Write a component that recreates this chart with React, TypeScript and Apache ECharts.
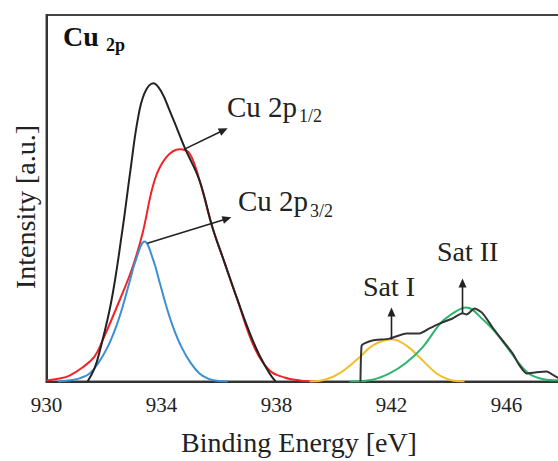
import React, { useEffect, useRef } from "react";
import * as echarts from "echarts";

// Binding energy (eV) / intensity (a.u.)
const totalEnergy = [931.43, 931.67, 931.84, 932.26, 932.64, 932.92, 933.17, 933.41, 933.72, 934.0, 934.28, 934.56, 934.83, 935.32, 935.77, 936.19, 936.61, 937.06, 937.41, 937.76, 937.97];
const totalIntensity = [0, 3.6, 7.9, 22.1, 41.3, 57.7, 71.3, 78.7, 81.4, 79.0, 74.0, 68.6, 63.4, 54.9, 42.1, 32.5, 23.0, 13.4, 7.1, 2.2, 0];

const p12Energy = [930.0, 930.45, 930.8, 931.25, 931.67, 931.95, 932.54, 932.99, 933.34, 933.76, 934.17, 934.63, 934.97, 935.32, 935.77, 936.19, 936.61, 937.23, 937.76, 938.28, 938.8, 939.5];
const p12Intensity = [0.3, 0.8, 1.6, 3.8, 6.8, 11.2, 22.1, 31.1, 40.4, 54.9, 61.2, 63.4, 62.3, 54.9, 42.1, 32.5, 23.0, 9.3, 3.0, 1.1, 0.3, 0];

const p32Energy = [930.4, 930.9, 931.2, 931.5, 931.8, 932.12, 932.4, 932.64, 932.9, 933.1, 933.41, 933.72, 933.92, 934.18, 934.42, 934.7, 935.02, 935.32, 935.62, 935.92, 936.3];
const p32Intensity = [0, 0.4, 1.0, 2.2, 5.0, 9.3, 14.5, 20.2, 27.5, 33.0, 38.2, 33.0, 27.5, 20.2, 14.5, 9.3, 5.0, 2.2, 0.8, 0.2, 0];

const sat1Energy = [939.15, 939.67, 940.19, 940.89, 941.34, 942.0, 942.52, 942.97, 943.57, 944.02, 944.54];
const sat1Intensity = [0, 0.5, 2.2, 6.6, 9.8, 11.5, 9.8, 6.6, 2.2, 0.5, 0];

const sat2Energy = [940.54, 941.34, 941.93, 942.52, 943.08, 943.67, 944.02, 944.6, 945.17, 945.65, 946.1, 946.56, 946.9, 947.39, 947.84, 948.0];
const sat2Intensity = [0, 0.5, 2.2, 5.2, 9.3, 15.6, 18.0, 20.2, 17.0, 13.1, 8.5, 3.8, 1.6, 0.5, 0.3, 0.2];

const satTotalEnergy = [940.92, 940.96, 941.06, 941.34, 941.93, 942.52, 942.97, 943.32, 943.67, 944.12, 944.47, 944.61, 944.89, 945.17, 945.51, 945.86, 946.21, 946.45, 946.7, 947.04, 947.39, 947.6, 947.77, 948.0];
const satTotalIntensity = [0, 9.8, 10.4, 11.2, 11.7, 13.1, 13.1, 14.5, 15.8, 17.2, 18.6, 18.3, 19.9, 18.6, 14.8, 11.2, 7.7, 4.4, 2.2, 2.5, 2.7, 1.9, 1.1, 0.8];

// annotation arrows (data coordinates): [energy, intensity]
const arrowFrom = [[934.8, 63.4], [933.51, 37.7], [942.0, 11.5], [944.47, 18.6]];
const arrowTo = [[936.3, 69.1], [936.43, 44.8], [942.0, 20.2], [944.47, 28.1]];

const xTicks = { min: 930, max: 948, interval: 4 };

const zip = (a: number[], b: number[]) => a.map((v, i) => [v, b[i]]);

const SERIF = "'Liberation Serif', 'Times New Roman', serif";

export default function App() {
  const ref = useRef<HTMLDivElement>(null);
  useEffect(() => {
    if (!ref.current) return;
    const chart = echarts.init(ref.current, null, { renderer: "svg" });
    const lineSeries = (data: number[][], color: string, smooth: number | boolean, z: number) => ({
      type: "line",
      data,
      smooth,
      showSymbol: false,
      symbol: "none",
      lineStyle: { color, width: 2 },
      z,
      silent: true,
    });
    const texts = [
      { type: "text", x: 63, y: 36, style: { text: "Cu", font: `bold 28px ${SERIF}`, fill: "#111", verticalAlign: "middle" } },
      { type: "text", x: 106, y: 44.5, style: { text: "2p", font: `bold 18px ${SERIF}`, fill: "#111", verticalAlign: "middle" } },
      { type: "text", x: 227, y: 107, style: { text: "Cu 2p", font: `29px ${SERIF}`, fill: "#222", verticalAlign: "middle" } },
      { type: "text", x: 299, y: 116, style: { text: "1/2", font: `18px ${SERIF}`, fill: "#222", verticalAlign: "middle" } },
      { type: "text", x: 238, y: 201, style: { text: "Cu 2p", font: `29px ${SERIF}`, fill: "#222", verticalAlign: "middle" } },
      { type: "text", x: 310, y: 211, style: { text: "3/2", font: `18px ${SERIF}`, fill: "#222", verticalAlign: "middle" } },
      { type: "text", x: 363, y: 286, style: { text: "Sat I", font: `28px ${SERIF}`, fill: "#222", verticalAlign: "middle" } },
      { type: "text", x: 437, y: 251, style: { text: "Sat II", font: `28px ${SERIF}`, fill: "#222", verticalAlign: "middle" } },
      { type: "text", x: 299, y: 442, style: { text: "Binding Energy [eV]", font: `28px ${SERIF}`, fill: "#222", align: "center", verticalAlign: "middle" } },
      { type: "text", x: 25, y: 207, rotation: Math.PI / 2, style: { text: "Intensity [a.u.]", font: `28px ${SERIF}`, fill: "#222", align: "center", verticalAlign: "middle" } },
    ];
    chart.setOption({
      animation: false,
      backgroundColor: "#fff",
      textStyle: { fontFamily: SERIF },
      grid: {
        left: 46.5,
        top: 15,
        right: -6,
        bottom: 79.5,
        show: true,
        borderColor: "#444",
        borderWidth: 2,
        outerBoundsMode: "none",
        containLabel: false,
      },
      xAxis: {
        type: "value",
        min: xTicks.min,
        max: xTicks.max,
        interval: xTicks.interval,
        axisLine: { show: true, lineStyle: { color: "#333", width: 2 } },
        axisTick: { show: false },
        splitLine: { show: false },
        axisLabel: { fontFamily: SERIF, fontSize: 21, color: "#222", margin: 13, showMaxLabel: false },
      },
      yAxis: {
        type: "value",
        min: 0,
        max: 100,
        axisLine: { show: true, onZero: false, lineStyle: { color: "#333", width: 2 } },
        axisTick: { show: false },
        axisLabel: { show: false },
        splitLine: { show: false },
      },
      series: [
        lineSeries(zip(p12Energy, p12Intensity), "#ee2428", 0.4, 2),
        lineSeries(zip(p32Energy, p32Intensity), "#3a8fd5", 0.4, 2),
        lineSeries(zip(sat1Energy, sat1Intensity), "#f2bf2a", 0.4, 2),
        lineSeries(zip(sat2Energy, sat2Intensity), "#2db46b", 0.4, 2),
        lineSeries(zip(totalEnergy, totalIntensity), "#222", 0.4, 3),
        lineSeries(zip(satTotalEnergy, satTotalIntensity), "#333", 0.2, 3),
      ],
      graphic: texts,
    });

    // arrows placed through the chart's own scales
    const arrows: any[] = [];
    arrowFrom.forEach((f, i) => {
      const a = chart.convertToPixel({ gridIndex: 0 }, f) as number[];
      const b = chart.convertToPixel({ gridIndex: 0 }, arrowTo[i]) as number[];
      const dx = b[0] - a[0];
      const dy = b[1] - a[1];
      const len = Math.hypot(dx, dy);
      const ux = dx / len;
      const uy = dy / len;
      const head = 9;
      const half = 4;
      const bx = b[0] - ux * head;
      const by = b[1] - uy * head;
      arrows.push({
        type: "line",
        shape: { x1: a[0], y1: a[1], x2: bx + ux, y2: by + uy },
        style: { stroke: "#222", lineWidth: 1.6 },
        z: 10,
      });
      arrows.push({
        type: "polygon",
        shape: {
          points: [
            [b[0], b[1]],
            [bx - uy * half, by + ux * half],
            [bx + uy * half, by - ux * half],
          ],
        },
        style: { fill: "#222" },
        z: 10,
      });
    });
    chart.setOption({ graphic: [...texts, ...arrows] }, { replaceMerge: ["graphic"] });

    return () => chart.dispose();
  }, []);
  return (
    <div
      ref={ref}
      style={{ position: "fixed", left: 0, top: 0, width: 558, height: 461, overflow: "hidden", background: "#fff" }}
    />
  );
}
